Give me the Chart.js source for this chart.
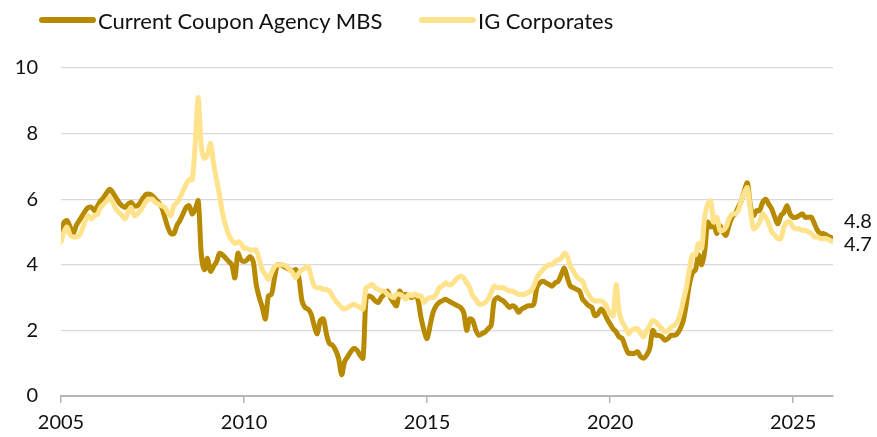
<!DOCTYPE html>
<html>
<head>
<meta charset="utf-8">
<script src="https://cdn.jsdelivr.net/npm/chart.js@4.4.1/dist/chart.umd.min.js"></script>
<style>
  html, body { margin: 0; padding: 0; background: #fff; }
  #wrap { position: relative; width: 877px; height: 437px; font-family: Lato, "Open Sans", sans-serif; }
  .key { position: absolute; top: 8px; height: 24px; display: flex; align-items: center; font-size: 22px; color: #111; white-space: nowrap; }
  .key span.sw { display: inline-block; width: 57px; height: 6px; border-radius: 3px; margin-right: 2px; }
</style>
</head>
<body>
<div id="wrap">
  <div class="key" style="left:39px"><span class="sw" style="background:#B88A00"></span>Current Coupon Agency MBS</div>
  <div class="key" style="left:419px"><span class="sw" style="background:#FFE38C"></span>IG Corporates</div>
  <canvas id="mbsChart" width="877" height="437"></canvas>
</div>
<script>
// monthly, Jan 2005 .. Feb 2026
const startYear = 2005;
const seriesNames = ['Current Coupon Agency MBS', 'IG Corporates'];
const xTicks = [2005, 2010, 2015, 2020, 2025];
const yTicks = [0, 2, 4, 6, 8, 10];

const mbs = [
  4.9, 5.3, 5.35, 5.15, 4.95, 5.2, 5.35, 5.5, 5.65, 5.75, 5.75, 5.65,   // 2005
  5.8, 5.95, 6.05, 6.2, 6.3, 6.2, 6.05, 5.9, 5.8, 5.75, 5.85, 5.9,      // 2006
  5.8, 5.8, 5.9, 6.05, 6.15, 6.15, 6.1, 6.0, 5.9, 5.75, 5.45, 5.15,     // 2007
  4.95, 4.95, 5.2, 5.35, 5.55, 5.75, 5.8, 5.55, 5.7, 5.95, 4.3, 3.85,   // 2008
  4.2, 3.8, 3.95, 4.1, 4.35, 4.3, 4.2, 4.1, 4.0, 3.6, 4.35, 4.15,       // 2009
  4.1, 4.15, 4.25, 4.1, 3.4, 3.0, 2.7, 2.35, 3.05, 3.1, 3.6, 4.0,       // 2010
  4.0, 3.95, 3.9, 3.85, 3.8, 3.85, 3.6, 2.9, 2.7, 2.65, 2.5, 2.15,      // 2011
  1.9, 2.3, 2.35, 1.9, 1.6, 1.55, 1.4, 1.15, 0.65, 1.05, 1.2, 1.35,     // 2012
  1.45, 1.4, 1.25, 1.15, 2.95, 3.05, 3.0, 2.9, 2.85, 3.0, 3.1, 3.2,     // 2013
  3.0, 2.85, 2.75, 3.2, 3.05, 3.1, 3.05, 3.0, 3.1, 2.95, 2.4, 2.0,      // 2014
  1.75, 2.15, 2.55, 2.75, 2.85, 2.9, 2.95, 2.9, 2.85, 2.8, 2.75, 2.7,   // 2015
  2.55, 2.0, 2.35, 2.3, 2.0, 1.85, 1.9, 1.95, 2.05, 2.15, 2.9, 3.0,     // 2016
  2.95, 2.9, 2.8, 2.7, 2.75, 2.7, 2.55, 2.65, 2.7, 2.75, 2.75, 2.8,     // 2017
  3.3, 3.45, 3.5, 3.45, 3.4, 3.35, 3.45, 3.5, 3.7, 3.9, 3.6, 3.35,      // 2018
  3.3, 3.25, 3.2, 2.95, 2.85, 2.75, 2.7, 2.45, 2.5, 2.65, 2.55, 2.35,   // 2019
  2.2, 2.05, 1.95, 1.8, 1.75, 1.5, 1.3, 1.3, 1.3, 1.35, 1.2, 1.15,      // 2020
  1.25, 1.45, 2.0, 1.85, 1.85, 1.8, 1.7, 1.75, 1.85, 1.85, 1.9, 2.05,   // 2021
  2.3, 2.8, 3.4, 3.75, 3.85, 4.3, 4.0, 4.4, 5.3, 5.15, 5.2, 4.95,       // 2022
  5.2, 5.0, 4.9, 5.2, 5.45, 5.55, 5.75, 5.95, 6.25, 6.5, 5.8, 5.5,      // 2023
  5.65, 5.65, 5.9, 6.0, 5.85, 5.7, 5.45, 5.25, 5.5, 5.6, 5.8, 5.55,     // 2024
  5.45, 5.45, 5.5, 5.55, 5.45, 5.45, 5.45, 5.25, 5.05, 4.95, 4.95, 4.9, // 2025
  4.85, 4.8                                                             // 2026
];

const igCorp = [
  4.7, 5.0, 5.15, 4.9, 4.85, 4.85, 4.9, 5.1, 5.35, 5.5, 5.4, 5.5,       // 2005
  5.55, 5.75, 5.85, 5.95, 6.05, 5.9, 5.7, 5.6, 5.5, 5.4, 5.6, 5.75,     // 2006
  5.5, 5.55, 5.65, 5.8, 5.95, 6.0, 6.0, 5.9, 5.85, 5.8, 5.75, 5.6,      // 2007
  5.5, 5.8, 5.9, 6.05, 6.25, 6.45, 6.6, 6.6, 7.7, 9.1, 7.6, 7.25,       // 2008
  7.35, 7.7, 7.1, 6.6, 6.1, 5.55, 5.2, 4.9, 4.75, 4.65, 4.7, 4.65,      // 2009
  4.5, 4.5, 4.45, 4.45, 4.45, 4.15, 3.85, 3.7, 3.55, 3.75, 3.95, 4.0,   // 2010
  4.0, 4.0, 3.95, 3.85, 3.75, 3.6, 3.75, 3.85, 3.9, 3.95, 3.65, 3.35,   // 2011
  3.3, 3.3, 3.25, 3.25, 3.2, 3.05, 2.9, 2.8, 2.7, 2.65, 2.7, 2.75,      // 2012
  2.8, 2.75, 2.7, 2.65, 3.3, 3.35, 3.4, 3.3, 3.25, 3.2, 3.2, 3.1,       // 2013
  3.05, 3.0, 3.1, 3.1, 3.05, 2.95, 3.1, 3.05, 3.1, 3.05, 3.05, 2.85,    // 2014
  2.95, 3.0, 3.0, 3.1, 3.3, 3.35, 3.45, 3.4, 3.4, 3.5, 3.6, 3.65,       // 2015
  3.6, 3.45, 3.3, 3.05, 2.95, 2.8, 2.8, 2.85, 2.95, 3.15, 3.35, 3.3,    // 2016
  3.3, 3.3, 3.25, 3.2, 3.2, 3.15, 3.1, 3.1, 3.1, 3.15, 3.2, 3.35,       // 2017
  3.6, 3.75, 3.85, 3.95, 4.0, 4.0, 4.1, 4.15, 4.2, 4.35, 4.25, 3.95,    // 2018
  3.8, 3.65, 3.55, 3.5, 3.25, 3.1, 2.95, 2.9, 2.9, 2.9, 2.85, 2.7,      // 2019
  2.5, 2.45, 3.4, 2.55, 2.25, 2.1, 1.9, 2.0, 2.05, 2.05, 1.9, 1.8,      // 2020
  2.0, 2.15, 2.3, 2.25, 2.15, 2.05, 1.95, 2.0, 2.1, 2.15, 2.25, 2.5,    // 2021
  2.9, 3.3, 3.85, 4.3, 4.3, 4.65, 4.5, 5.45, 5.85, 5.95, 5.3, 5.45,     // 2022
  5.05, 5.05, 5.15, 5.4, 5.55, 5.55, 5.65, 5.95, 6.2, 6.35, 5.7, 5.1,   // 2023
  5.15, 5.3, 5.55, 5.45, 5.25, 5.0, 4.9, 4.8, 4.8, 5.15, 5.3, 5.3,      // 2024
  5.15, 5.1, 5.1, 5.05, 5.05, 5.0, 4.95, 4.85, 4.85, 4.8, 4.8, 4.8,     // 2025
  4.75, 4.7                                                             // 2026
];

const toPoints = (arr) => arr.map((v, i) => ({ x: startYear + i / 12, y: v }));

// end-of-line value labels
const endLabels = {
  id: 'endLabels',
  afterDatasetsDraw(chart) {
    const { ctx } = chart;
    const offsets = [-17, 3];
    ctx.save();
    ctx.font = '20px Lato, "Open Sans", sans-serif';
    ctx.fillStyle = '#111';
    ctx.textBaseline = 'middle';
    ctx.textAlign = 'left';
    chart.data.datasets.forEach((ds, di) => {
      const meta = chart.getDatasetMeta(di);
      const last = meta.data[meta.data.length - 1];
      const val = ds.data[ds.data.length - 1].y;
      ctx.fillText(val.toFixed(1), 844, last.y + offsets[di]);
    });
    ctx.restore();
  }
};

const ctx = document.getElementById('mbsChart');
new Chart(ctx, {
  type: 'line',
  data: {
    datasets: [
      {
        label: seriesNames[0],
        data: toPoints(mbs),
        borderColor: '#B88A00',
        borderWidth: 5,
        order: 1
      },
      {
        label: seriesNames[1],
        data: toPoints(igCorp),
        borderColor: '#FFE38C',
        borderWidth: 5,
        order: 0
      }
    ]
  },
  options: {
    responsive: false,
    animation: false,
    elements: {
      point: { radius: 0 },
      line: { tension: 0.3, borderJoinStyle: 'round', borderCapStyle: 'round' }
    },
    layout: { padding: { top: 68, right: 44, left: 0, bottom: 0 } },
    plugins: {
      legend: { display: false },
      tooltip: { enabled: false }
    },
    scales: {
      x: {
        type: 'linear',
        min: 2005,
        max: 2026.09,
        afterBuildTicks: (s) => { s.ticks = xTicks.map(v => ({ value: v })); },
        afterFit: (s) => { s.height = 41; },
        ticks: {
          color: '#111',
          font: { family: 'Lato', size: 20 },
          padding: 8,
          maxRotation: 0,
          callback: (v) => String(v)
        },
        grid: { drawOnChartArea: false, drawTicks: true, tickLength: 7, color: '#b5b5b5', lineWidth: 1.5 },
        border: { display: true, color: '#b5b5b5', width: 2 }
      },
      y: {
        min: 0,
        max: 10,
        afterBuildTicks: (s) => { s.ticks = yTicks.map(v => ({ value: v })); },
        afterFit: (s) => { s.width = 61; },
        ticks: {
          color: '#111',
          font: { family: 'Lato', size: 20 },
          padding: 23
        },
        grid: { color: '#d9d9d9', lineWidth: 1.2, drawTicks: false },
        border: { display: false }
      }
    }
  },
  plugins: [endLabels]
});
</script>
</body>
</html>
